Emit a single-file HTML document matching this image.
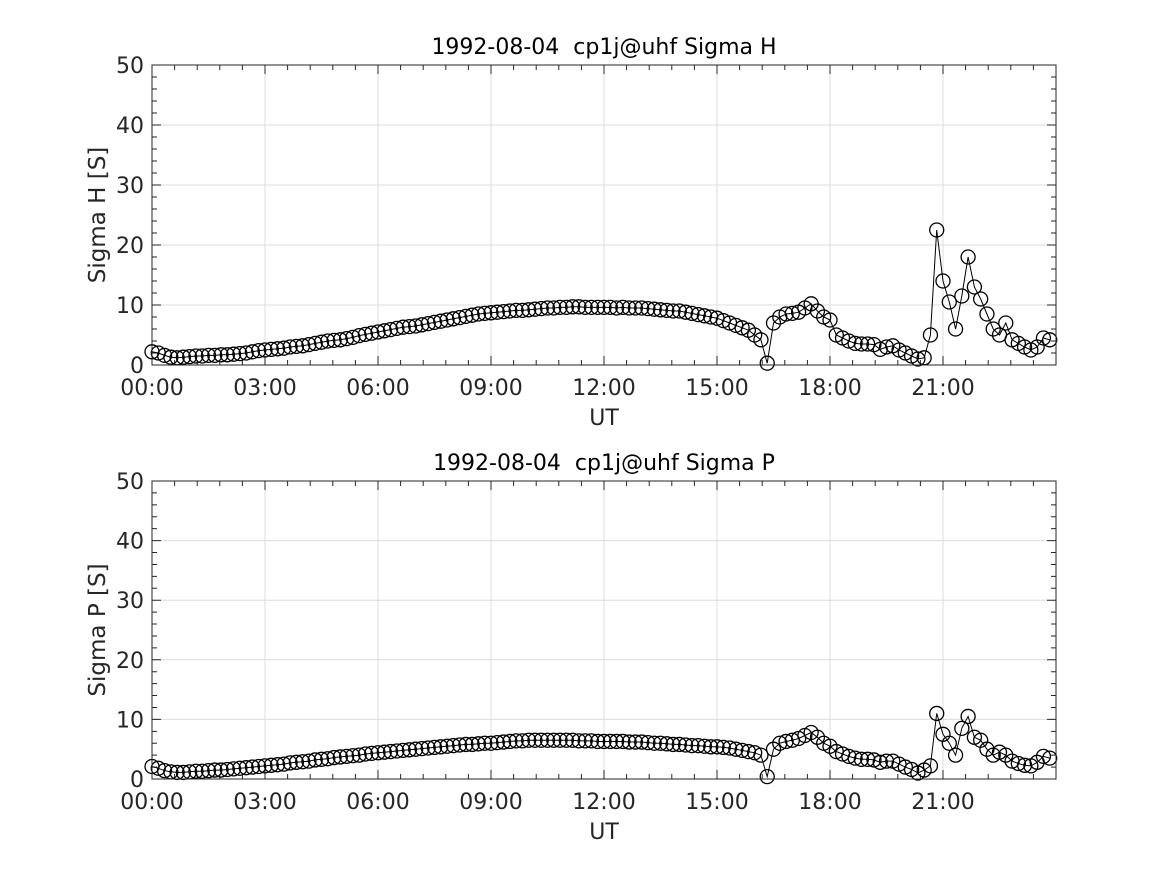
<!DOCTYPE html>
<html><head><meta charset="utf-8"><style>
body{margin:0;background:#fff;}
svg{display:block;font-family:"DejaVu Sans","Liberation Sans",sans-serif;}
text{white-space:pre;}
</style></head><body>
<svg id="c" width="1167" height="875" viewBox="0 0 1167 875"></svg>
<script>
const xTickLabels=["00:00","03:00","06:00","09:00","12:00","15:00","18:00","21:00"];
const yTickLabels=["0","10","20","30","40","50"];
const sigmaH=[2.2,2.0,1.6,1.3,1.2,1.3, 1.4,1.5,1.5,1.6,1.6,1.7, 1.7,1.8,1.9,2.0,2.2,2.4, 2.5,2.6,2.7,2.8,3.0,3.1,
3.2,3.4,3.6,3.8,4.0,4.1, 4.2,4.4,4.6,4.9,5.1,5.3, 5.5,5.7,5.9,6.1,6.3,6.4, 6.5,6.7,6.9,7.1,7.3,7.5,
7.7,7.9,8.1,8.3,8.5,8.6, 8.7,8.8,8.9,9.0,9.1,9.1, 9.2,9.3,9.4,9.5,9.5,9.6, 9.6,9.7,9.7,9.6,9.6,9.6,
9.6,9.6,9.5,9.6,9.5,9.5, 9.5,9.4,9.3,9.2,9.1,9.0, 9.0,8.8,8.6,8.4,8.2,8.0, 7.8,7.4,7.0,6.6,6.2,5.8,
5.0,4.2,0.3,7.0,8.0,8.5, 8.6,8.8,9.5,10.2,9.0,8.0, 7.5,5.0,4.5,4.0,3.6,3.5, 3.5,3.4,2.6,3.0,3.2,2.5,
2.0,1.5,1.0,1.2,5.0,22.5, 14.0,10.5,6.0,11.5,18.0,13.0, 11.0,8.5,6.0,5.0,7.0,4.2, 3.6,3.0,2.5,3.0,4.5,4.2];
const sigmaP=[2.1,1.8,1.4,1.2,1.1,1.1, 1.2,1.3,1.3,1.4,1.5,1.5, 1.6,1.7,1.8,1.9,2.0,2.1, 2.2,2.3,2.4,2.5,2.7,2.8,
2.9,3.0,3.2,3.3,3.4,3.6, 3.7,3.8,3.9,4.0,4.2,4.3, 4.4,4.5,4.6,4.7,4.8,4.9, 5.0,5.1,5.2,5.3,5.4,5.5,
5.6,5.7,5.8,5.8,5.9,6.0, 6.0,6.1,6.2,6.3,6.4,6.4, 6.5,6.5,6.5,6.5,6.5,6.5, 6.5,6.5,6.4,6.4,6.4,6.3,
6.3,6.3,6.3,6.3,6.2,6.2, 6.2,6.1,6.0,6.0,5.9,5.8, 5.8,5.7,5.6,5.6,5.5,5.4, 5.4,5.3,5.2,5.0,4.8,4.6,
4.4,4.0,0.4,5.0,6.0,6.3, 6.5,6.8,7.3,7.8,7.0,6.0, 5.5,4.6,4.2,3.8,3.5,3.3, 3.3,3.2,2.8,3.0,3.0,2.5,
2.0,1.6,1.0,1.5,2.2,11.0, 7.5,6.0,4.0,8.5,10.5,7.0, 6.5,5.0,4.0,4.5,4.0,3.0, 2.6,2.3,2.2,2.8,3.8,3.5];
const stepHours=1/6;
const NS="http://www.w3.org/2000/svg";
const svg=document.getElementById('c');
function mk(t,a,p){const e=document.createElementNS(NS,t);for(const k in a)e.setAttribute(k,a[k]);(p||svg).appendChild(e);return e;}
function panel(top,bot,data,title,ylab,key){
  const L=152,R=1056;
  const xs=h=>L+(R-L)*h/24, ys=v=>bot-(bot-top)*v/50;
  const g=mk('g',{});
  
  
  for(let i=0;i<xTickLabels.length;i++){const x=xs(i*3);
    const l=mk('line',{x1:x,x2:x,y1:top,y2:bot,stroke:'#dcdcdc','stroke-width':1},g);
    }
  for(let i=1;i<yTickLabels.length-1;i++){const y=ys(+yTickLabels[i]);
    const l=mk('line',{x1:L,x2:R,y1:y,y2:y,stroke:'#dcdcdc','stroke-width':1},g);
    }
  let d='';
  for(let m=0;m<=24*60;m+=36){const x=xs(m/60);const len=(m%180===0)?9:5;d+=`M${x},${bot}v${-len}M${x},${top}v${len}`;}
  for(let v=0;v<=50;v+=2){const y=ys(v);const len=(v%10===0)?9:5;d+=`M${L},${y}h${len}M${R},${y}h${-len}`;}
  const t=mk('path',{d:d,stroke:'#262626','stroke-width':1,fill:'none'},g);
  
  let pd='';data.forEach((v,i)=>{pd+=(i?'L':'M')+xs(i*stepHours).toFixed(1)+','+ys(v).toFixed(1);});
  const ln=mk('path',{d:pd,stroke:'#000','stroke-width':1,fill:'none'},g);
  
  data.forEach((v,i)=>{const c=mk('circle',{cx:xs(i*stepHours),cy:ys(v),r:7,fill:'none',stroke:'#000','stroke-width':1.3},g);
    });
  const b=mk('rect',{x:L,y:top,width:R-L,height:bot-top,fill:'none',stroke:'#262626','stroke-width':1},g);
  
  xTickLabels.forEach((s,i)=>{const e=mk('text',{x:xs(i*3),y:bot+30,'text-anchor':'middle','font-size':22,fill:'#262626'},g);e.textContent=s;
    });
  yTickLabels.forEach(s=>{const e=mk('text',{x:L-8,y:ys(+s)+8,'text-anchor':'end','font-size':22,fill:'#262626'},g);e.textContent=s;
    });
  const tt=mk('text',{x:604,y:top-11,'text-anchor':'middle','font-size':22,fill:'#000'},g);tt.textContent=title;
  
  const xl=mk('text',{x:604,y:bot+60,'text-anchor':'middle','font-size':22,fill:'#262626'},g);xl.textContent='UT';
  
  const yl=mk('text',{x:0,y:0,'text-anchor':'middle','font-size':23,fill:'#262626',transform:`translate(105,${(top+bot)/2}) rotate(-90)`},g);yl.textContent=ylab;
  
}
panel(65,365,sigmaH,'1992-08-04  cp1j@uhf Sigma H','Sigma H [S]','sigma-h');
panel(481,779,sigmaP,'1992-08-04  cp1j@uhf Sigma P','Sigma P [S]','sigma-p');
</script>
</body></html>
